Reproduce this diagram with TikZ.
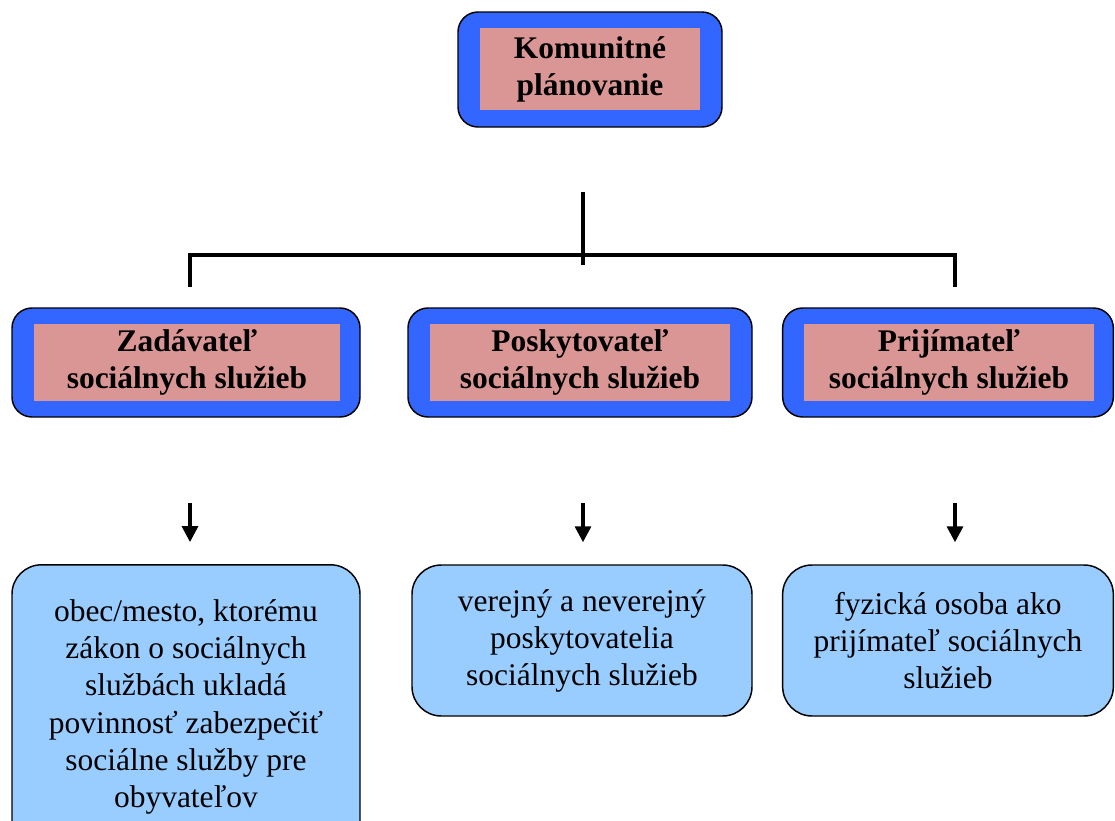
\documentclass[tikz,border=0pt]{standalone}
\usepackage{fontspec}
\setmainfont{Liberation Serif}
\usetikzlibrary{arrows.meta}
\definecolor{frameblue}{RGB}{51,102,255}
\definecolor{rose}{RGB}{217,150,148}
\definecolor{skyblue}{RGB}{153,204,255}

\begin{document}
\begin{tikzpicture}[x=0.75pt,y=-0.75pt]
\tikzstyle{frame} = [rectangle, rounded corners=15pt, draw=black, line width=1.1pt, fill=frameblue]
\tikzstyle{title} = [rectangle, fill=rose, inner sep=0pt, align=center, font=\fontsize{23.6}{27.75}\selectfont\bfseries]
\tikzstyle{info} = [rectangle, rounded corners=22pt, draw=black, line width=1.1pt, fill=skyblue, align=center, font=\fontsize{23.6}{27.75}\selectfont]
\tikzstyle{infotext} = [align=center, inner sep=0pt, font=\fontsize{23.6}{28}\selectfont]
\tikzstyle{arrow} = [line width=2.5pt,-{Triangle[width=12pt,length=12pt]}]
\tikzstyle{branch} = [line width=2.5pt]

\useasboundingbox (0,0) rectangle (1115,821);
\clip (0,0) rectangle (1115,821);

%nodes
\node (planf) [frame, minimum width=198pt, minimum height=86.25pt] at (590,69.5) {};
\node (plan) [title, minimum width=165pt, minimum height=61.5pt] at (590,69) {Komunitné\\plánovanie};

\node (zadf) [frame, minimum width=261pt, minimum height=81.75pt] at (186,362.5) {};
\node (zad) [title, minimum width=229.5pt, minimum height=57.75pt] at (187,362.5) {Zadávateľ\\sociálnych služieb};
\node (poskf) [frame, minimum width=258pt, minimum height=81.75pt] at (580,362.5) {};
\node (posk) [title, minimum width=225pt, minimum height=57.75pt] at (580,362.5) {Poskytovateľ\\sociálnych služieb};
\node (prijf) [frame, minimum width=248pt, minimum height=81.75pt] at (948,362.5) {};
\node (prij) [title, minimum width=217.5pt, minimum height=57.75pt] at (949,362.5) {Prijímateľ\\sociálnych služieb};

\node (obec) [info, minimum width=261pt, minimum height=232pt] at (186,719.5) {};
\node (obectext) [infotext] at (186,707) {obec/mesto, ktorému\\zákon o sociálnych\\službách ukladá\\povinnosť zabezpečiť\\sociálne služby pre\\obyvateľov};
\node (verejny) [info, minimum width=255pt, minimum height=113.25pt] at (582,640.5) {verejný a neverejný\\poskytovatelia\\sociálnych služieb};
\node (fyzicka) [info, minimum width=248pt, minimum height=113.25pt] at (948,640.5) {fyzická osoba ako\\prijímateľ sociálnych\\služieb};

%tree
\coordinate (stem) at (583,192);
\coordinate (fork) at (583,255);
\coordinate (stemend) at (583,265);
\coordinate (lft) at (190,287);
\coordinate (rgt) at (955,287);
\draw [branch] (stem) -- (stemend);
\draw [branch, line join=miter] (lft) |- (fork) -| (rgt);

%arrows
\coordinate (a1) at (190,503);
\coordinate (a2) at (583,503);
\coordinate (a3) at (955,503);
\draw [arrow, shorten >=16.5pt] (a1) -- (a1 |- obec.north);
\draw [arrow, shorten >=16.5pt] (a2) -- (a2 |- verejny.north);
\draw [arrow, shorten >=16.5pt] (a3) -- (a3 |- fyzicka.north);

\end{tikzpicture}
\end{document}
